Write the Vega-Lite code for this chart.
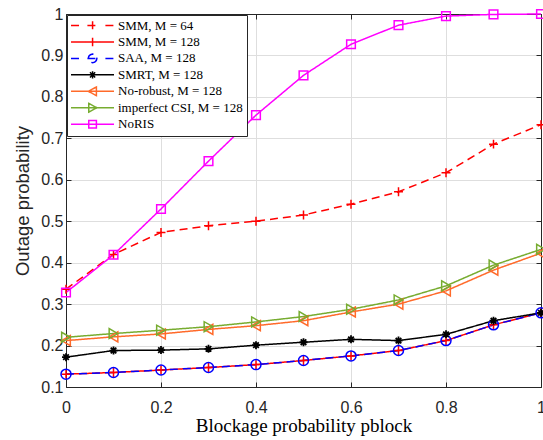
{
  "$schema": "https://vega.github.io/schema/vega-lite/v6.json",
  "width": 475,
  "height": 373,
  "autosize": "none",
  "padding": {"left": 66, "top": 14, "right": 2, "bottom": 53},
  "background": "white",
  "config": {
    "view": {"stroke": "#262626", "strokeWidth": 1},
    "axis": {"labelFont": "Liberation Sans", "labelFontSize": 16, "labelColor": "#262626", "domainColor": "#262626", "tickColor": "#262626", "labelFlush": false, "labelOverlap": false, "gridColor": "#dedede", "gridWidth": 1}
  },
  "data": {"values": [
    {"series": "SMM, M = 64", "p": 0, "v": 0.336}, {"series": "SMM, M = 64", "p": 0.1, "v": 0.42}, {"series": "SMM, M = 64", "p": 0.2, "v": 0.473}, {"series": "SMM, M = 64", "p": 0.3, "v": 0.489}, {"series": "SMM, M = 64", "p": 0.4, "v": 0.5}, {"series": "SMM, M = 64", "p": 0.5, "v": 0.515}, {"series": "SMM, M = 64", "p": 0.6, "v": 0.541}, {"series": "SMM, M = 64", "p": 0.7, "v": 0.571}, {"series": "SMM, M = 64", "p": 0.8, "v": 0.617}, {"series": "SMM, M = 64", "p": 0.9, "v": 0.686}, {"series": "SMM, M = 64", "p": 1, "v": 0.733},
    {"series": "SMM, M = 128", "p": 0, "v": 0.131}, {"series": "SMM, M = 128", "p": 0.1, "v": 0.135}, {"series": "SMM, M = 128", "p": 0.2, "v": 0.141}, {"series": "SMM, M = 128", "p": 0.3, "v": 0.147}, {"series": "SMM, M = 128", "p": 0.4, "v": 0.154}, {"series": "SMM, M = 128", "p": 0.5, "v": 0.164}, {"series": "SMM, M = 128", "p": 0.6, "v": 0.175}, {"series": "SMM, M = 128", "p": 0.7, "v": 0.188}, {"series": "SMM, M = 128", "p": 0.8, "v": 0.212}, {"series": "SMM, M = 128", "p": 0.9, "v": 0.25}, {"series": "SMM, M = 128", "p": 1, "v": 0.279},
    {"series": "SAA, M = 128", "p": 0, "v": 0.131}, {"series": "SAA, M = 128", "p": 0.1, "v": 0.135}, {"series": "SAA, M = 128", "p": 0.2, "v": 0.141}, {"series": "SAA, M = 128", "p": 0.3, "v": 0.147}, {"series": "SAA, M = 128", "p": 0.4, "v": 0.154}, {"series": "SAA, M = 128", "p": 0.5, "v": 0.164}, {"series": "SAA, M = 128", "p": 0.6, "v": 0.175}, {"series": "SAA, M = 128", "p": 0.7, "v": 0.188}, {"series": "SAA, M = 128", "p": 0.8, "v": 0.212}, {"series": "SAA, M = 128", "p": 0.9, "v": 0.25}, {"series": "SAA, M = 128", "p": 1, "v": 0.279},
    {"series": "SMRT, M = 128", "p": 0, "v": 0.172}, {"series": "SMRT, M = 128", "p": 0.1, "v": 0.188}, {"series": "SMRT, M = 128", "p": 0.2, "v": 0.189}, {"series": "SMRT, M = 128", "p": 0.3, "v": 0.192}, {"series": "SMRT, M = 128", "p": 0.4, "v": 0.201}, {"series": "SMRT, M = 128", "p": 0.5, "v": 0.208}, {"series": "SMRT, M = 128", "p": 0.6, "v": 0.215}, {"series": "SMRT, M = 128", "p": 0.7, "v": 0.212}, {"series": "SMRT, M = 128", "p": 0.8, "v": 0.227}, {"series": "SMRT, M = 128", "p": 0.9, "v": 0.26}, {"series": "SMRT, M = 128", "p": 1, "v": 0.279},
    {"series": "No-robust, M = 128", "p": 0, "v": 0.212}, {"series": "No-robust, M = 128", "p": 0.1, "v": 0.221}, {"series": "No-robust, M = 128", "p": 0.2, "v": 0.228}, {"series": "No-robust, M = 128", "p": 0.3, "v": 0.239}, {"series": "No-robust, M = 128", "p": 0.4, "v": 0.248}, {"series": "No-robust, M = 128", "p": 0.5, "v": 0.26}, {"series": "No-robust, M = 128", "p": 0.6, "v": 0.281}, {"series": "No-robust, M = 128", "p": 0.7, "v": 0.3}, {"series": "No-robust, M = 128", "p": 0.8, "v": 0.332}, {"series": "No-robust, M = 128", "p": 0.9, "v": 0.382}, {"series": "No-robust, M = 128", "p": 1, "v": 0.423},
    {"series": "imperfect CSI, M = 128", "p": 0, "v": 0.22}, {"series": "imperfect CSI, M = 128", "p": 0.1, "v": 0.229}, {"series": "imperfect CSI, M = 128", "p": 0.2, "v": 0.237}, {"series": "imperfect CSI, M = 128", "p": 0.3, "v": 0.2455}, {"series": "imperfect CSI, M = 128", "p": 0.4, "v": 0.257}, {"series": "imperfect CSI, M = 128", "p": 0.5, "v": 0.27}, {"series": "imperfect CSI, M = 128", "p": 0.6, "v": 0.2875}, {"series": "imperfect CSI, M = 128", "p": 0.7, "v": 0.31}, {"series": "imperfect CSI, M = 128", "p": 0.8, "v": 0.344}, {"series": "imperfect CSI, M = 128", "p": 0.9, "v": 0.394}, {"series": "imperfect CSI, M = 128", "p": 1, "v": 0.432},
    {"series": "NoRIS", "p": 0, "v": 0.328}, {"series": "NoRIS", "p": 0.1, "v": 0.419}, {"series": "NoRIS", "p": 0.2, "v": 0.5295}, {"series": "NoRIS", "p": 0.3, "v": 0.645}, {"series": "NoRIS", "p": 0.4, "v": 0.756}, {"series": "NoRIS", "p": 0.5, "v": 0.852}, {"series": "NoRIS", "p": 0.6, "v": 0.927}, {"series": "NoRIS", "p": 0.7, "v": 0.973}, {"series": "NoRIS", "p": 0.8, "v": 0.995}, {"series": "NoRIS", "p": 0.9, "v": 0.999}, {"series": "NoRIS", "p": 1, "v": 1.0}
  ]},
  "resolve": {"axis": {"x": "independent", "y": "independent"}},
  "layer": [
    {
      "mark": {"type": "line", "strokeWidth": 1.5},
      "encoding": {
        "x": {"field": "p", "type": "quantitative", "scale": {"domain": [0, 1], "nice": false, "zero": false},
          "axis": {"values": [0, 0.2, 0.4, 0.6, 0.8, 1], "format": "~g", "grid": true, "tickSize": -5, "labelPadding": 17,
            "title": "Blockage probability pblock", "titleFont": "Liberation Serif", "titleFontSize": 19, "titleFontWeight": "normal", "titleColor": "black", "titlePadding": 1}},
        "y": {"field": "v", "type": "quantitative", "scale": {"domain": [0.1, 1], "nice": false, "zero": false},
          "axis": {"values": [0.1, 0.2, 0.3, 0.4, 0.5, 0.6, 0.7, 0.8, 0.9, 1], "format": "~g", "grid": true, "tickSize": -5, "labelPadding": 8,
            "title": "Outage probability", "titleFont": "Liberation Sans", "titleFontSize": 18.5, "titleFontWeight": "normal", "titleColor": "#262626", "titlePadding": 8}},
        "color": {"field": "series", "type": "nominal",
          "scale": {"domain": ["SMM, M = 64", "SMM, M = 128", "SAA, M = 128", "SMRT, M = 128", "No-robust, M = 128", "imperfect CSI, M = 128", "NoRIS"],
                    "range": ["#ff0000", "#ff0000", "#0000ff", "#000000", "#ff6a2a", "#77ac30", "#ff00ff"]},
          "legend": {"title": null, "orient": "top-left", "offset": 1, "padding": 4, "fillColor": "white", "strokeColor": "#262626",
            "symbolSize": 81, "symbolStrokeWidth": 1.5, "symbolFillColor": "transparent", "symbolDash": [],
            "labelFont": "Liberation Serif", "labelFontSize": 13, "labelColor": "black",
            "rowPadding": 1.45, "labelOffset": 34, "cornerRadius": 0,
            "symbolType": {"expr": "datum.value === 'SMM, M = 64' ? 'M-1.44,0L0.5,0M2.2,0L4.5,0M6.2,0L8.11,0M3.35,-0.96L3.35,0.96' : datum.value === 'SMM, M = 128' ? 'M-1.44,0L8.11,0M3.35,-0.96L3.35,0.96' : datum.value === 'SAA, M = 128' ? 'M-1.44,0L0.5,0M2.2,0L4.5,0M6.2,0L8.11,0M4.31,0L4.181,0.48L3.83,0.831L3.35,0.96L2.87,0.831L2.519,0.48L2.39,0L2.519,-0.48L2.87,-0.831L3.35,-0.96L3.83,-0.831L4.181,-0.48Z' : datum.value === 'SMRT, M = 128' ? 'M-1.44,0L8.11,0M3.35,-0.8L3.35,0.8M2.78,-0.57L3.92,0.57M2.78,0.57L3.92,-0.57' : datum.value === 'No-robust, M = 128' ? 'M-1.44,0L8.11,0M2.4,0L4.2,-0.96L4.2,0.96Z' : datum.value === 'imperfect CSI, M = 128' ? 'M-1.44,0L8.11,0M4.3,0L2.5,-0.96L2.5,0.96Z' : 'M-1.44,0L8.11,0M2.5,-0.85L4.2,-0.85L4.2,0.85L2.5,0.85Z'"}
          }
        },
        "strokeDash": {"field": "series", "type": "nominal", "legend": null,
          "scale": {"domain": ["SMM, M = 64", "SMM, M = 128", "SAA, M = 128", "SMRT, M = 128", "No-robust, M = 128", "imperfect CSI, M = 128", "NoRIS"],
                    "range": [[8, 5], [1, 0], [8, 5], [1, 0], [1, 0], [1, 0], [1, 0]]}}
      }
    },
    {
      "transform": [{"filter": {"field": "series", "equal": "SMM, M = 64"}}],
      "mark": {"type": "point", "shape": "M-1,0L1,0M0,-1L0,1", "color": "#ff0000", "filled": false, "strokeWidth": 1.5, "size": 80, "opacity": 1},
      "encoding": {"x": {"field": "p", "type": "quantitative", "axis": null}, "y": {"field": "v", "type": "quantitative", "axis": null}}
    },
    {
      "transform": [{"filter": {"field": "series", "equal": "SMM, M = 128"}}],
      "mark": {"type": "point", "shape": "M-1,0L1,0M0,-1L0,1", "color": "#ff0000", "filled": false, "strokeWidth": 1.5, "size": 80, "opacity": 1},
      "encoding": {"x": {"field": "p", "type": "quantitative", "axis": null}, "y": {"field": "v", "type": "quantitative", "axis": null}}
    },
    {
      "transform": [{"filter": {"field": "series", "equal": "SAA, M = 128"}}],
      "mark": {"type": "point", "shape": "circle", "color": "#0000ff", "filled": false, "strokeWidth": 1.5, "size": 100, "opacity": 1},
      "encoding": {"x": {"field": "p", "type": "quantitative", "axis": null}, "y": {"field": "v", "type": "quantitative", "axis": null}}
    },
    {
      "transform": [{"filter": {"field": "series", "equal": "SMRT, M = 128"}}],
      "mark": {"type": "point", "shape": "M-1,0L1,0M0,-1L0,1M-0.7,-0.7L0.7,0.7M-0.7,0.7L0.7,-0.7", "color": "#000000", "filled": false, "strokeWidth": 1.8, "size": 64, "opacity": 1},
      "encoding": {"x": {"field": "p", "type": "quantitative", "axis": null}, "y": {"field": "v", "type": "quantitative", "axis": null}}
    },
    {
      "transform": [{"filter": {"field": "series", "equal": "No-robust, M = 128"}}],
      "mark": {"type": "point", "shape": "triangle-left", "color": "#ff6a2a", "filled": false, "strokeWidth": 1.5, "size": 100, "opacity": 1},
      "encoding": {"x": {"field": "p", "type": "quantitative", "axis": null}, "y": {"field": "v", "type": "quantitative", "axis": null}}
    },
    {
      "transform": [{"filter": {"field": "series", "equal": "imperfect CSI, M = 128"}}],
      "mark": {"type": "point", "shape": "triangle-right", "color": "#77ac30", "filled": false, "strokeWidth": 1.5, "size": 100, "opacity": 1},
      "encoding": {"x": {"field": "p", "type": "quantitative", "axis": null}, "y": {"field": "v", "type": "quantitative", "axis": null}}
    },
    {
      "transform": [{"filter": {"field": "series", "equal": "NoRIS"}}],
      "mark": {"type": "point", "shape": "square", "color": "#ff00ff", "filled": false, "strokeWidth": 1.5, "size": 75, "opacity": 1},
      "encoding": {"x": {"field": "p", "type": "quantitative", "axis": null}, "y": {"field": "v", "type": "quantitative", "axis": null}}
    },
    {
      "mark": {"type": "point", "opacity": 0},
      "encoding": {
        "x": {"field": "p", "type": "quantitative",
          "axis": {"orient": "top", "values": [0, 0.2, 0.4, 0.6, 0.8, 1], "labels": false, "grid": false, "tickSize": -5, "title": null}},
        "y": {"field": "v", "type": "quantitative",
          "axis": {"orient": "right", "values": [0.1, 0.2, 0.3, 0.4, 0.5, 0.6, 0.7, 0.8, 0.9, 1], "labels": false, "grid": false, "tickSize": -5, "title": null}}
      }
    }
  ]
}
